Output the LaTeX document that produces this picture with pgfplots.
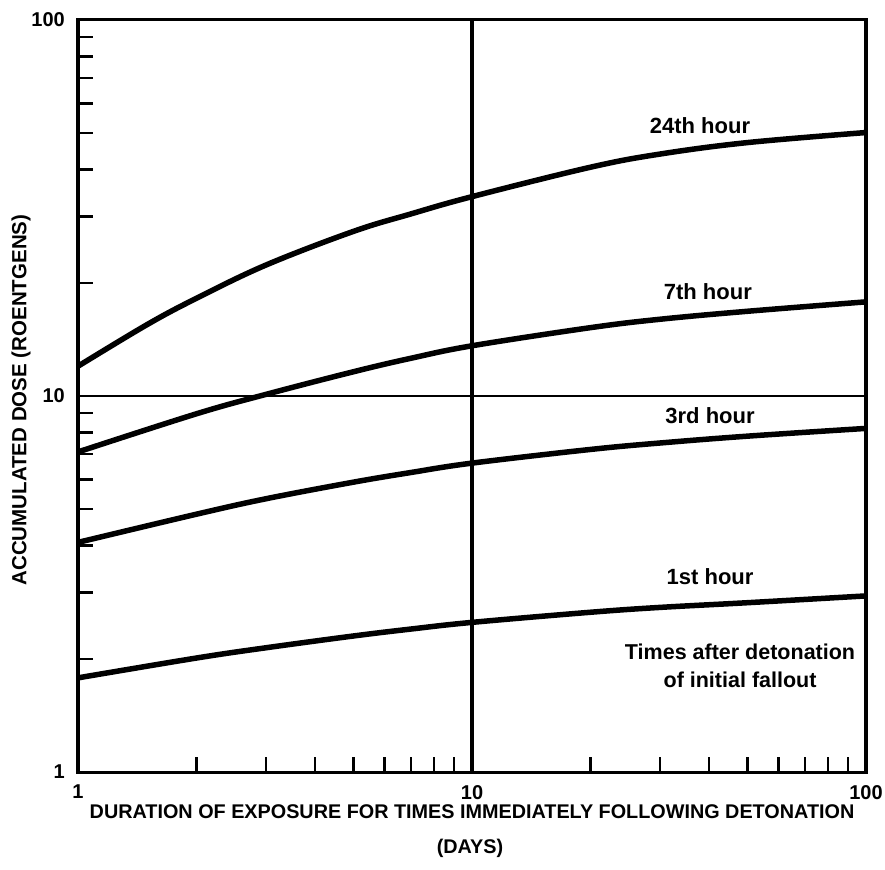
\documentclass[border=0pt]{standalone}
\usepackage{fontspec}
\setmainfont{Liberation Sans}
\usepackage{pgfplots}
\pgfplotsset{compat=1.18}
\begin{document}
\begin{tikzpicture}
\path[use as bounding box] (-78pt,-97pt) rectangle (807pt,772pt);
\begin{loglogaxis}[
  at={(0,0)}, anchor=south west,
  scale only axis, width=788pt, height=752pt,
  xmin=1, xmax=100, ymin=1, ymax=100,
  clip=false,
  axis line style={line width=3pt, black},
  tick align=inside, tick pos=left,
  major tick length=0pt, minor tick length=15pt,
  every tick/.style={line width=2.4pt, black},
  xtick={1,10,100}, ytick={1,10,100},
  xticklabels={1,10,100}, yticklabels={1,10,100},
  minor xtick={2,3,4,5,6,7,8,9,20,30,40,50,60,70,80,90},
  minor ytick={2,3,4,5,6,7,8,9,20,30,40,50,60,70,80,90},
  grid=major,
  major x grid style={line width=3.5pt, black},
  major y grid style={line width=2.5pt, black},
  /pgf/number format/assume math mode=true,
  xticklabel style={font=\fontsize{20}{20}\selectfont\bfseries, anchor=north, inner sep=0pt, yshift=-13pt},
  yticklabel style={font=\fontsize{20}{20}\selectfont\bfseries, anchor=east, inner sep=0pt, xshift=-13pt},
]
\addplot[line width=5.5pt, smooth, tension=0.6] coordinates {
 (1,12.0) (1.5,15.5) (2,18.2) (3,22.3) (5,27.4) (7,30.5) (10,33.9) (20,40.6) (30,44.0) (50,47.2) (100,50.2)};
\addplot[line width=5.5pt, smooth, tension=0.6] coordinates {
 (1,7.1) (2,8.97) (3,10.1) (5,11.6) (7,12.6) (10,13.6) (20,15.2) (30,16.0) (50,16.8) (100,17.8)};
\addplot[line width=5.5pt, smooth, tension=0.6] coordinates {
 (1,4.08) (2,4.85) (3,5.33) (5,5.90) (7,6.26) (10,6.63) (20,7.21) (30,7.50) (50,7.82) (100,8.2)};
\addplot[line width=5.5pt, smooth, tension=0.6] coordinates {
 (1,1.78) (2,2.01) (3,2.14) (5,2.30) (7,2.40) (10,2.50) (20,2.66) (30,2.74) (50,2.82) (100,2.94)};

\node[font=\fontsize{22}{22}\selectfont\bfseries] at (axis cs:37.9,52.5) {24th hour};
\node[font=\fontsize{22}{22}\selectfont\bfseries] at (axis cs:39.7,18.9) {7th hour};
\node[font=\fontsize{22}{22}\selectfont\bfseries] at (axis cs:40.2,8.84) {3rd hour};
\node[font=\fontsize{22}{22}\selectfont\bfseries] at (axis cs:40.2,3.31) {1st hour};
\node[font=\fontsize{21.5}{28}\selectfont\bfseries, align=center] at (axis cs:47.9,1.92) {Times after detonation\\of initial fallout};
\end{loglogaxis}
\node[font=\fontsize{20.5}{20.5}\selectfont\bfseries, rotate=90] at (-57pt,372pt) {ACCUMULATED DOSE (ROENTGENS)};
\node[font=\fontsize{19.8}{19.8}\selectfont\bfseries] at (394pt,-40pt) {DURATION OF EXPOSURE FOR TIMES IMMEDIATELY FOLLOWING DETONATION};
\node[font=\fontsize{19.8}{19.8}\selectfont\bfseries] at (392pt,-76pt) {(DAYS)};
\end{tikzpicture}
\end{document}
